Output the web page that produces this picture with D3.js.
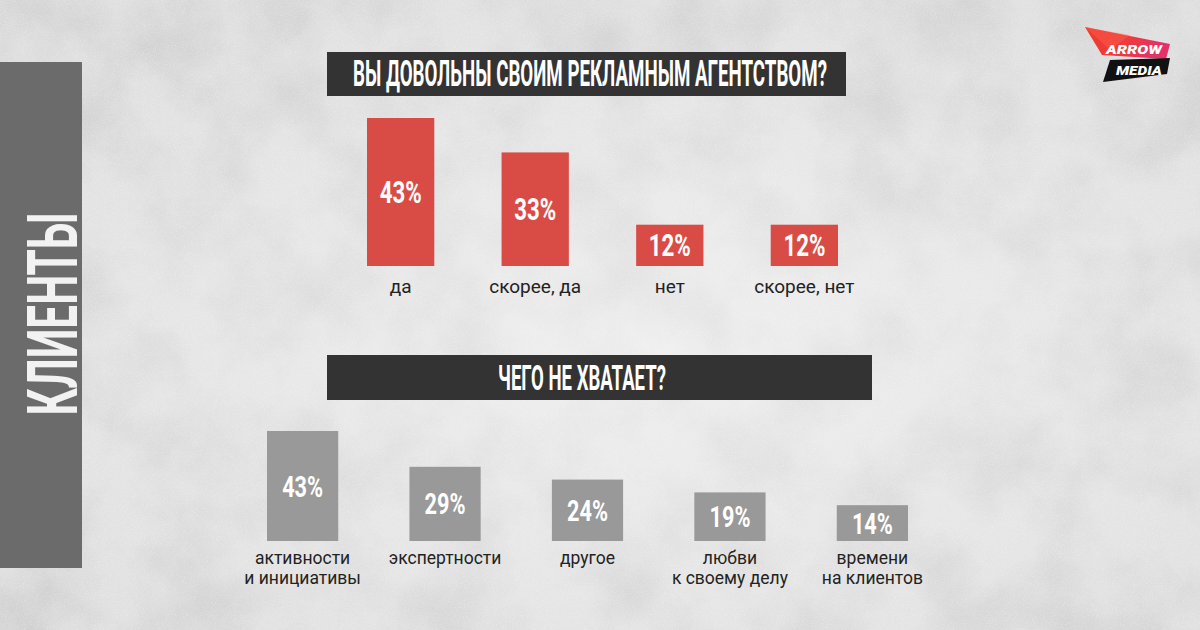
<!DOCTYPE html>
<html><head><meta charset="utf-8">
<script src="https://cdn.jsdelivr.net/npm/d3@7"></script>
<style>html,body{margin:0;padding:0;background:#e8e8e8;}svg{display:block;}</style>
</head><body>
<svg id="c" width="1200" height="630"></svg>
<script>
// ---- data ----
const sideTitle = "КЛИЕНТЫ";
const title1 = "ВЫ ДОВОЛЬНЫ СВОИМ РЕКЛАМНЫМ АГЕНТСТВОМ?";
const cats1 = ["да", "скорее, да", "нет", "скорее, нет"];
const vals1 = [43, 33, 12, 12];
const title2 = "ЧЕГО НЕ ХВАТАЕТ?";
const cats2 = [["активности", "и инициативы"], ["экспертности"], ["другое"], ["любви", "к своему делу"], ["времени", "на клиентов"]];
const vals2 = [43, 29, 24, 19, 14];
const logoTop = "ARROW";
const logoBottom = "MEDIA";

const svg = d3.select("#c");
const defs = svg.append("defs");

// background texture
const f = defs.append("filter").attr("id","noise").attr("x",0).attr("y",0).attr("width","100%").attr("height","100%");
f.append("feTurbulence").attr("type","fractalNoise").attr("baseFrequency","0.012").attr("numOctaves",5).attr("seed",7).attr("result","t");
f.append("feColorMatrix").attr("in","t").attr("type","matrix")
  .attr("values","0 0 0 0 0.45  0 0 0 0 0.45  0 0 0 0 0.45  1.5 0 0 0 -0.55");
const f2 = defs.append("filter").attr("id","grain").attr("x",0).attr("y",0).attr("width","100%").attr("height","100%");
f2.append("feTurbulence").attr("type","fractalNoise").attr("baseFrequency","0.9").attr("numOctaves",2).attr("seed",3).attr("result","t");
f2.append("feColorMatrix").attr("in","t").attr("type","matrix")
  .attr("values","0 0 0 0 1  0 0 0 0 1  0 0 0 0 1  1.6 0 0 0 -0.75");
const rg = defs.append("radialGradient").attr("id","glow").attr("cx","55%").attr("cy","55%").attr("r","65%");
rg.append("stop").attr("offset","0%").attr("stop-color","#fff").attr("stop-opacity",0.5);
rg.append("stop").attr("offset","60%").attr("stop-color","#fff").attr("stop-opacity",0.2);
rg.append("stop").attr("offset","100%").attr("stop-color","#fff").attr("stop-opacity",0);

svg.append("rect").attr("width",1200).attr("height",630).attr("fill","#e0e0e0");
svg.append("rect").attr("width",1200).attr("height",630).attr("filter","url(#noise)").attr("opacity",0.5);
svg.append("rect").attr("width",1200).attr("height",630).attr("filter","url(#grain)").attr("opacity",0.4);
svg.append("rect").attr("width",1200).attr("height",630).attr("fill","url(#glow)");

const condensed = "Roboto, sans-serif";

// helper: text horizontally compressed to a target width (anchor: centre x, baseline y)
function squeezed(parent, cx, by, txt, size, weight, width, fill, rotate, italic) {
  const g = parent.append("g");
  const t = g.append("text").attr("text-anchor","middle").attr("font-family",condensed)
    .attr("font-weight",weight).attr("font-size",size).attr("fill",fill)
    .attr("font-style", italic ? "italic" : "normal").text(txt);
  const natural = t.node().getComputedTextLength();
  const s = width / natural;
  g.attr("transform", `translate(${cx},${by})` + (rotate ? ` rotate(${rotate})` : "") + ` scale(${s},1)`);
  return g;
}

// side panel
svg.append("rect").attr("x",0).attr("y",62).attr("width",82).attr("height",506).attr("fill","#6b6b6b");
squeezed(svg, 77, 314, sideTitle, 70, 700, 203, "#f2f2f2", -90);

// logo
const lg = defs.append("linearGradient").attr("id","lg").attr("x1","0").attr("y1","0").attr("x2","1").attr("y2","0.3");
lg.append("stop").attr("offset","0%").attr("stop-color","#f03a2a");
lg.append("stop").attr("offset","55%").attr("stop-color","#ee3b3b");
lg.append("stop").attr("offset","100%").attr("stop-color","#e5306a");
svg.append("polygon").attr("points","1085,27 1170,44 1166,59 1102,55").attr("fill","url(#lg)");
svg.append("polygon").attr("points","1085,27 1130,35 1110,50").attr("fill","#ff6a5a").attr("opacity",0.35);
svg.append("polygon").attr("points","1110,60 1170,58 1167,74 1103,82").attr("fill","#111");
squeezed(svg, 1134, 54, logoTop, 12, 900, 56, "#fff", 0, true);
squeezed(svg, 1139, 75, logoBottom, 12, 900, 46, "#fff", 0, true);

// title bars
function titleBar(x, y, w, h, txt, tx, tw) {
  svg.append("rect").attr("x",x).attr("y",y).attr("width",w).attr("height",h).attr("fill","#333333");
  squeezed(svg, tx + tw/2, y+h/2+12, txt, 36, 700, tw, "#ffffff", 0);
}
titleBar(327, 52, 519, 44, title1, 353, 474);
titleBar(327, 355, 545, 45, title2, 498, 168);

// chart 1
const x1 = d3.scaleBand().domain(cats1).range([367, 838]).paddingInner(0.5).paddingOuter(0);
const y1 = d3.scaleLinear().domain([0, 43]).range([266, 118]);
const g1 = svg.append("g");
const d1 = cats1.map((c,i)=>({c, v: vals1[i]}));
g1.selectAll("rect").data(d1).join("rect")
  .attr("x", d=>x1(d.c)).attr("y", d=>y1(d.v)).attr("width", x1.bandwidth()).attr("height", d=>y1(0)-y1(d.v))
  .attr("fill","#d94c46");
d1.forEach(d => squeezed(g1, x1(d.c)+x1.bandwidth()/2, (y1(d.v)+y1(0))/2+11, d.v+"%", 31, 700, 42, "#fff", 0));
g1.selectAll("text.c").data(d1).join("text").attr("class","c")
  .attr("x", d=>x1(d.c)+x1.bandwidth()/2).attr("y", 293)
  .attr("text-anchor","middle").attr("font-family","Roboto, sans-serif").attr("font-size",19)
  .attr("fill","#222").text(d=>d.c);

// chart 2
const keys2 = cats2.map(c=>c.join(" "));
const x2 = d3.scaleBand().domain(keys2).range([267, 908]).paddingInner(0.5).paddingOuter(0);
const y2 = d3.scaleLinear().domain([0, 43]).range([541, 431]);
const g2 = svg.append("g");
const d2 = keys2.map((k,i)=>({k, lines: cats2[i], v: vals2[i]}));
g2.selectAll("rect").data(d2).join("rect")
  .attr("x", d=>x2(d.k)).attr("y", d=>y2(d.v)).attr("width", x2.bandwidth()).attr("height", d=>y2(0)-y2(d.v))
  .attr("fill","#999999");
d2.forEach(d => squeezed(g2, x2(d.k)+x2.bandwidth()/2, (y2(d.v)+y2(0))/2+10.5, d.v+"%", 29, 700, 41, "#fff", 0));
const lines2 = d2.flatMap(d => d.lines.map((l, i) => ({l, i, k: d.k})));
g2.selectAll("text.c").data(lines2).join("text").attr("class","c")
  .attr("x", t=>x2(t.k)+x2.bandwidth()/2).attr("y", t=>564 + t.i*19.5)
  .attr("text-anchor","middle").attr("font-family","Roboto, sans-serif").attr("font-size",17.5)
  .attr("fill","#222").text(t=>t.l);
</script>
</body></html>
